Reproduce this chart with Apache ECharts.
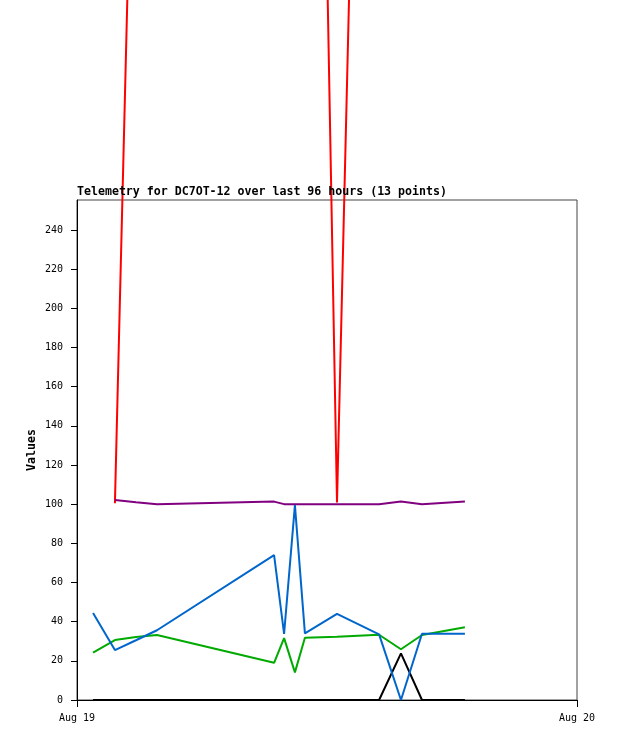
<!DOCTYPE html>
<html>
<head>
<meta charset="utf-8">
<script src="https://cdn.jsdelivr.net/npm/echarts@6/dist/echarts.min.js"></script>
<style>
html,body{margin:0;padding:0;background:#fff;}
#c{width:618px;height:741px;}
</style>
</head>
<body>
<div id="c"></div>
<script>
// hours since Aug 19 00:00
const hours = [0.77, 1.82, 2.83, 3.84, 9.46, 9.94, 10.46, 10.94, 12.48, 14.50, 15.55, 16.56, 18.62];
const redVals    = [null, 100.5, 537, 1000, 1000, 1000, 1000, 988, 100.8, 1000, 1000, 1000, 1000];
const purpleVals = [null, 102.1, 101, 100, 101.3, 100, 100, 100, 100, 100, 101.3, 100, 101.3];
const blueVals   = [44.4, 25.5, 30.5, 35.6, 74, 33.7, 99.5, 34, 44, 33.5, 0, 33.8, 33.8];
const greenVals  = [24.2, 30.6, 32.2, 33.2, 19, 31.6, 14.1, 31.8, 32.3, 33.3, 25.9, 33.2, 37.1];
const blackVals  = [0, 0, 0, 0, 0, 0, 0, 0, 0, 0, 23.8, 0, 0];
const yTicks = [0, 20, 40, 60, 80, 100, 120, 140, 160, 180, 200, 220, 240];
const xTicks = [0, 24];
const xTickLabels = ['Aug 19', 'Aug 20'];
const titleText = 'Telemetry for DC7OT-12 over last 96 hours (13 points)';

const pairs = v => hours.map((h, i) => [h, v[i]]);
const mono = 'DejaVu Sans Mono';

function line(name, vals, color) {
  return {
    name, type: 'line', data: pairs(vals), showSymbol: false, symbol: 'none',
    clip: false, connectNulls: false,
    lineStyle: { color, width: 2 }, itemStyle: { color },
    emphasis: { disabled: true }
  };
}

const chart = echarts.init(document.getElementById('c'), null, { renderer: 'canvas' });
chart.setOption({
  animation: false,
  backgroundColor: '#fff',
  title: {
    text: titleText, left: 77, top: 186, padding: 0,
    textStyle: { fontFamily: mono, fontSize: 11.6, fontWeight: 'bold', color: '#000' }
  },
  grid: {
    left: 77, top: 200, width: 500, height: 500,
    show: true, borderColor: '#444', borderWidth: 1, outerBoundsMode: 'none'
  },
  xAxis: {
    type: 'value', min: 0, max: 24, interval: 24,
    splitLine: { show: false },
    axisLine: { lineStyle: { color: '#000', width: 1 } },
    axisTick: { show: true, length: 7, lineStyle: { color: '#000' }, customValues: xTicks },
    axisLabel: {
      customValues: xTicks,
      fontFamily: mono, fontSize: 10, color: '#000', margin: 13,
      formatter: v => xTickLabels[xTicks.indexOf(v)] || ''
    }
  },
  yAxis: {
    type: 'value', min: 0, max: 255.3, interval: 20,
    name: 'Values', nameLocation: 'middle', nameGap: 39, nameRotate: 90,
    nameMoveOverlap: false,
    nameTextStyle: { fontFamily: mono, fontSize: 11.6, fontWeight: 'bold', color: '#000' },
    splitLine: { show: false },
    axisLine: { lineStyle: { color: '#000', width: 1 } },
    axisTick: { show: true, length: 6, lineStyle: { color: '#000' }, customValues: yTicks },
    axisLabel: {
      customValues: yTicks,
      fontFamily: mono, fontSize: 10, color: '#000', margin: 14
    }
  },
  series: [
    line('black', blackVals, '#000000'),
    line('red', redVals, '#ff0000'),
    line('purple', purpleVals, '#800080'),
    line('green', greenVals, '#00aa00'),
    line('blue', blueVals, '#0066cc')
  ]
});
</script>
</body>
</html>
